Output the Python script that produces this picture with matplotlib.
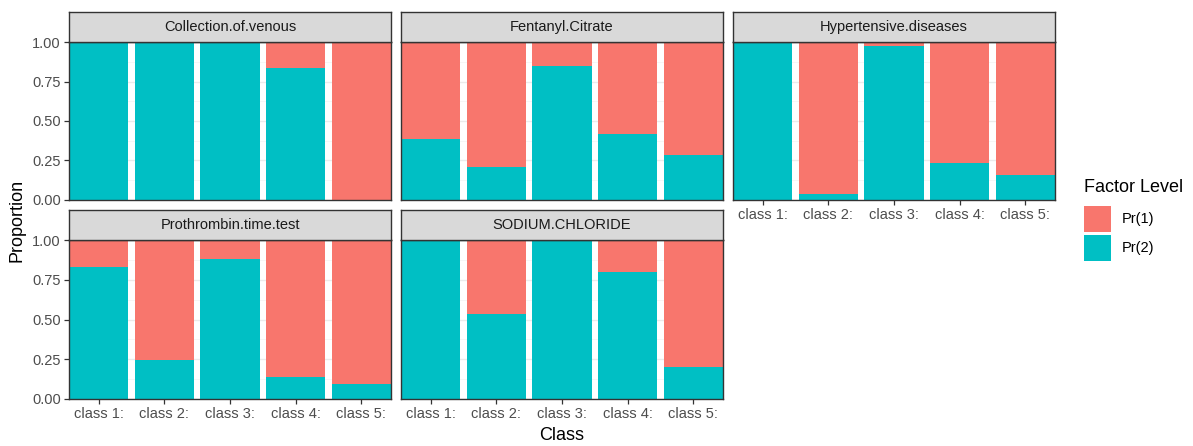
import matplotlib
matplotlib.use("Agg")
import matplotlib.pyplot as plt
from matplotlib.patches import Rectangle
import numpy as np

plt.rcParams['font.family'] = ['Liberation Sans', 'DejaVu Sans']

classes = ["class 1:", "class 2:", "class 3:", "class 4:", "class 5:"]
panels = ["Collection.of.venous", "Fentanyl.Citrate", "Hypertensive.diseases",
          "Prothrombin.time.test", "SODIUM.CHLORIDE"]

# Proportion of Pr(2) in each class; Pr(1) is the remainder
pr2_collection = [1.00, 1.00, 1.00, 0.835, 0.00]
pr2_fentanyl = [0.383, 0.208, 0.845, 0.419, 0.284]
pr2_hypertensive = [1.00, 0.04, 0.975, 0.232, 0.156]
pr2_prothrombin = [0.828, 0.245, 0.879, 0.14, 0.094]
pr2_sodium = [1.00, 0.535, 1.00, 0.799, 0.203]
pr2_all = [pr2_collection, pr2_fentanyl, pr2_hypertensive, pr2_prothrombin, pr2_sodium]

levels = ["Pr(1)", "Pr(2)"]
colors = {"Pr(1)": "#F8766D", "Pr(2)": "#00BFC4"}

W, H = 1193, 446
fig = plt.figure(figsize=(W / 100, H / 100), dpi=100)


def px_axes(x0, y0, x1, y1, **kw):
    return fig.add_axes([x0 / W, 1 - y1 / H, (x1 - x0) / W, (y1 - y0) / H], **kw)


cols = [(69, 391), (401, 723), (733, 1055)]
rows = [(12, 42, 200), (210, 240, 399)]
border = "#333333"
tick_col = "#4D4D4D"
fs_tick = 10.5

positions = [(0, 0), (0, 1), (0, 2), (1, 0), (1, 1)]
x = np.arange(1, 6)
for idx, (r, c) in enumerate(positions):
    x0, x1 = cols[c]
    st, pt, pb = rows[r]
    ax = px_axes(x0, pt, x1, pb)
    pr2 = np.array(pr2_all[idx])
    pr1 = 1 - pr2
    ax.bar(x, pr2, width=0.9, color=colors["Pr(2)"], zorder=2, linewidth=0)
    ax.bar(x, pr1, width=0.9, bottom=pr2, color=colors["Pr(1)"], zorder=2, linewidth=0)
    ax.set_xlim(0.55, 5.45)
    ax.set_ylim(0, 1)
    for yv in [0.125, 0.375, 0.625, 0.875]:
        ax.axhline(yv, color="#F5F5F5", lw=0.6, zorder=0)
    for yv in [0, 0.25, 0.5, 0.75, 1.0]:
        ax.axhline(yv, color="#EBEBEB", lw=1.0, zorder=0)
    ax.set_yticks([0, 0.25, 0.5, 0.75, 1.0])
    ax.set_xticks(x)
    for s in ax.spines.values():
        s.set_color(border)
        s.set_linewidth(1.0)
        s.set_zorder(5)
    ax.tick_params(colors=border, length=3.5, width=0.9, labelcolor=tick_col,
                   labelsize=fs_tick, pad=2.5)
    if c == 0:
        ax.set_yticklabels(["0.00", "0.25", "0.50", "0.75", "1.00"])
    else:
        ax.tick_params(axis="y", length=0, labelleft=False)
    has_below = (r == 0 and c in (0, 1))
    if has_below:
        ax.tick_params(axis="x", length=0, labelbottom=False)
    else:
        ax.set_xticklabels(classes)
    # facet strip
    sax = px_axes(x0, st, x1, pt)
    sax.set_facecolor("#D9D9D9")
    sax.set_xticks([])
    sax.set_yticks([])
    for s in sax.spines.values():
        s.set_color(border)
        s.set_linewidth(1.0)
    sax.text(0.5, 0.5, panels[idx], ha="center", va="center", fontsize=fs_tick,
             color="#1A1A1A", transform=sax.transAxes)

fig.text(17 / W, 1 - 220 / H, "Proportion", rotation=90, ha="center", va="center",
         fontsize=13, color="black")
fig.text(562 / W, 1 - 436 / H, "Class", ha="center", va="center", fontsize=13,
         color="black")

# legend
fig.text(1084 / W, 1 - 188 / H, "Factor Level", ha="left", va="center", fontsize=13,
         color="black")
key_y = [(206, 232), (235, 261)]
for lev, (ky0, ky1) in zip(levels, key_y):
    fig.patches.append(Rectangle((1084 / W, 1 - ky1 / H), 26.5 / W, (ky1 - ky0) / H,
                                 transform=fig.transFigure, facecolor=colors[lev],
                                 edgecolor="none"))
    fig.text(1122 / W, 1 - (ky0 + ky1) / 2 / H, lev, ha="left", va="center",
             fontsize=fs_tick, color="black")

fig.savefig("out.png", dpi=100)
